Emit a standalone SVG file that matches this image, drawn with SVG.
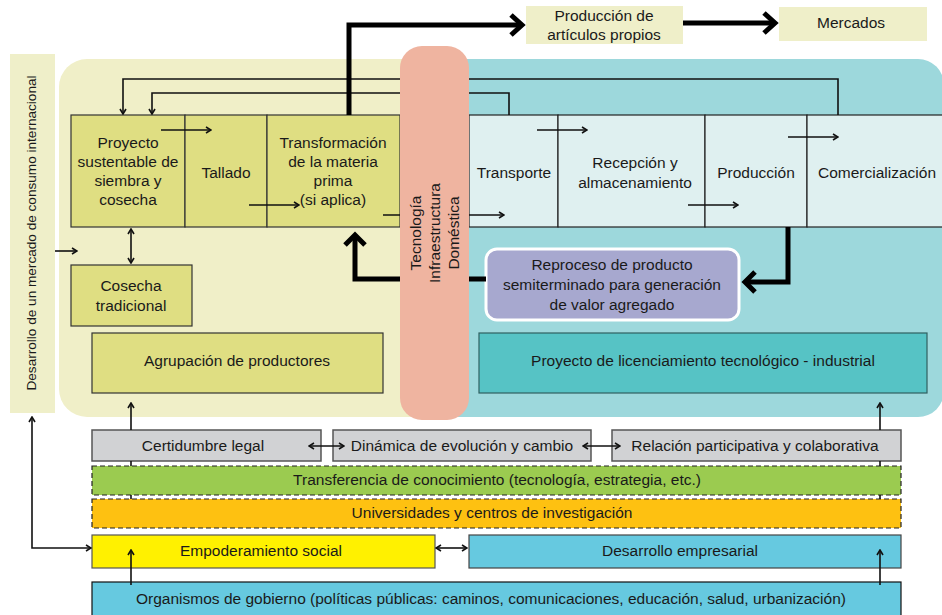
<svg xmlns="http://www.w3.org/2000/svg" width="942" height="615" viewBox="0 0 942 615">
  <style>
    text { font-family: "Liberation Sans", Arial, sans-serif; font-size: 15.5px; fill: #1a1a1a; text-anchor: middle; }
    .side { font-size: 13.6px; }
    .cellL { fill: #dfde82; stroke: #333; stroke-width: 1.2; }
    .cellR { fill: #dff0f0; stroke: #222; stroke-width: 1.2; }
    .pale { fill: #efefc9; }
    .gray { fill: #d1d2d4; stroke: #555; stroke-width: 1.5; }
    .dash { stroke: #222; stroke-width: 1.2; stroke-dasharray: 5 3; }
    .thin { fill: none; stroke: #111; stroke-width: 1.6; }
    .thick { fill: none; stroke: #000; stroke-width: 5; stroke-linejoin: miter; }
  </style>
  <defs>
    <marker id="ah" viewBox="0 0 8 8" refX="7" refY="4" markerWidth="8" markerHeight="8" markerUnits="userSpaceOnUse" orient="auto-start-reverse">
      <path d="M2,1 L7,4 L2,7" fill="none" stroke="#111" stroke-width="1.6"/>
    </marker>
  </defs>

  <!-- background regions -->
  <rect x="10" y="54" width="45" height="359" class="pale"/>
  <text class="side" transform="translate(36,233) rotate(-90)">Desarrollo de un mercado de consumo internacional</text>
  <rect x="59" y="59" width="380" height="358" rx="28" fill="#f0efc8"/>
  <rect x="430" y="59" width="514" height="358" rx="26" fill="#9dd8dc"/>

  <!-- top outputs -->
  <g id="produccion-propios">
    <rect x="526" y="6" width="157" height="38" class="pale"/>
    <text x="604" y="21">Producción de</text>
    <text x="604" y="40">artículos propios</text>
  </g>
  <g id="mercados">
    <rect x="779" y="7" width="148" height="34" class="pale"/>
    <text x="851" y="28">Mercados</text>
  </g>

  <!-- upstream chain -->
  <g id="proyecto-sustentable">
    <rect x="71" y="115" width="114" height="112" class="cellL"/>
    <text x="128" y="148">Proyecto</text>
    <text x="128" y="167">sustentable de</text>
    <text x="128" y="186">siembra y</text>
    <text x="128" y="205">cosecha</text>
  </g>
  <g id="tallado">
    <rect x="185" y="115" width="82" height="112" class="cellL"/>
    <text x="226" y="178">Tallado</text>
  </g>
  <g id="transformacion">
    <rect x="267" y="115" width="133" height="112" class="cellL"/>
    <text x="333" y="148">Transformación</text>
    <text x="333" y="167">de la materia</text>
    <text x="333" y="186">prima</text>
    <text x="333" y="205">(si aplica)</text>
  </g>
  <g id="cosecha-tradicional">
    <rect x="71" y="265" width="121" height="61" class="cellL"/>
    <text x="131" y="291">Cosecha</text>
    <text x="131" y="311">tradicional</text>
  </g>
  <g id="agrupacion">
    <rect x="92" y="333" width="291" height="60" class="cellL"/>
    <text x="237" y="366">Agrupación de productores</text>
  </g>

  <!-- downstream chain -->
  <g id="transporte">
    <rect x="469" y="115" width="89" height="112" class="cellR"/>
    <text x="514" y="178">Transporte</text>
  </g>
  <g id="recepcion">
    <rect x="558" y="115" width="147" height="112" class="cellR"/>
    <text x="635" y="168">Recepción y</text>
    <text x="635" y="188">almacenamiento</text>
  </g>
  <g id="produccion">
    <rect x="705" y="115" width="102" height="112" class="cellR"/>
    <text x="756" y="178">Producción</text>
  </g>
  <g id="comercializacion">
    <rect x="807" y="115" width="140" height="112" class="cellR"/>
    <text x="877" y="178">Comercialización</text>
  </g>
  <g id="reproceso">
    <rect x="486" y="249" width="253" height="71" rx="11" fill="#a7a8cf" stroke="#fff" stroke-width="3"/>
    <text x="612" y="270">Reproceso de producto</text>
    <text x="612" y="290">semiterminado para generación</text>
    <text x="612" y="310">de valor agregado</text>
  </g>
  <g id="licenciamiento">
    <rect x="479" y="333" width="448" height="60" fill="#56c3c5" stroke="#2f5f60" stroke-width="1.2"/>
    <text x="703" y="366">Proyecto de licenciamiento tecnológico - industrial</text>
  </g>

  <!-- enabling conditions -->
  <g id="certidumbre">
    <rect x="92" y="430" width="229" height="31" class="gray"/>
    <text x="203" y="451">Certidumbre legal</text>
  </g>
  <g id="dinamica">
    <rect x="333" y="430" width="258" height="31" class="gray"/>
    <text x="462" y="451">Dinámica de evolución y cambio</text>
  </g>
  <g id="relacion">
    <rect x="612" y="430" width="289" height="31" class="gray"/>
    <text x="755" y="451">Relación participativa y colaborativa</text>
  </g>
  <g id="transferencia">
    <rect x="92" y="466" width="809" height="29" fill="#9bcb50" class="dash"/>
    <text x="497" y="485">Transferencia de conocimiento (tecnología, estrategia, etc.)</text>
  </g>
  <g id="universidades">
    <rect x="92" y="499" width="809" height="29" fill="#fec111" class="dash"/>
    <text x="492" y="518">Universidades y centros de investigación</text>
  </g>
  <g id="empoderamiento">
    <rect x="92" y="535" width="343" height="33" fill="#fff100" stroke="#555" stroke-width="1.2"/>
    <text x="261" y="556">Empoderamiento social</text>
  </g>
  <g id="desarrollo-empresarial">
    <rect x="469" y="535" width="432" height="33" fill="#66c9e0" stroke="#444" stroke-width="1.2"/>
    <text x="680" y="556">Desarrollo empresarial</text>
  </g>
  <g id="organismos">
    <rect x="92" y="582" width="809" height="40" fill="#66c9e0" stroke="#111" stroke-width="1.2"/>
    <text x="491" y="604">Organismos de gobierno (políticas públicas: caminos, comunicaciones, educación, salud, urbanización)</text>
  </g>

  <!-- connectors -->
  <g id="connectors">
    <!-- feedback loops along the top -->
    <path class="thin" d="M838 115 V79 H123 V114" marker-end="url(#ah)"/>
    <path class="thin" d="M509 115 V93 H152 V114" marker-end="url(#ah)"/>
    <!-- flow arrows inside the chain -->
    <path class="thin" d="M161 130 H211" marker-end="url(#ah)"/>
    <path class="thin" d="M249 205 H299" marker-end="url(#ah)"/>
    <path class="thin" d="M383 215 H504" marker-end="url(#ah)"/>
    <path class="thin" d="M537 130 H587" marker-end="url(#ah)"/>
    <path class="thin" d="M688 205 H738" marker-end="url(#ah)"/>
    <path class="thin" d="M788 137 H838" marker-end="url(#ah)"/>
    <path class="thin" d="M131 229 V263" marker-start="url(#ah)" marker-end="url(#ah)"/>
    <path class="thin" d="M55 251 H77" marker-end="url(#ah)"/>
    <!-- thick flows -->
    <path class="thick" d="M349 115 V25 H521"/>
    <path class="thick" d="M511 15 L522 25 L511 35"/>
    <path class="thick" d="M683 23 H774"/>
    <path class="thick" d="M764 13 L775 23 L764 33"/>
    <path class="thick" d="M486 279 H355 V236"/>
    <path class="thick" d="M345 245 L355 235 L365 245"/>
    <path class="thick" d="M788 227 V282 H745"/>
    <path class="thick" d="M755 272 L745 282 L755 292"/>
    <!-- links from the enabling layers -->
    <path class="thin" d="M131 499 V495 M131 466 V461 M131 430 V403" marker-end="url(#ah)"/>
    <path class="thin" d="M880 499 V495 M880 466 V461 M880 430 V403" marker-end="url(#ah)"/>
    <path class="thin" d="M131 585 V550" marker-end="url(#ah)"/>
    <path class="thin" d="M880 585 V550" marker-end="url(#ah)"/>
    <path class="thin" d="M309 446 H344" marker-start="url(#ah)" marker-end="url(#ah)"/>
    <path class="thin" d="M583 446 H620" marker-start="url(#ah)" marker-end="url(#ah)"/>
    <path class="thin" d="M436 548 H467" marker-start="url(#ah)" marker-end="url(#ah)"/>
    <path class="thin" d="M32 417 V548 H91" marker-start="url(#ah)" marker-end="url(#ah)"/>
  </g>

  <!-- domestic technology / infrastructure column -->
  <g id="tecnologia">
    <rect x="400" y="46" width="69" height="374" rx="22" fill="#efb4a0"/>
    <text transform="translate(421,233) rotate(-90)">Tecnología</text>
    <text transform="translate(440,233) rotate(-90)">Infraestructura</text>
    <text transform="translate(459,233) rotate(-90)">Doméstica</text>
  </g>
</svg>
